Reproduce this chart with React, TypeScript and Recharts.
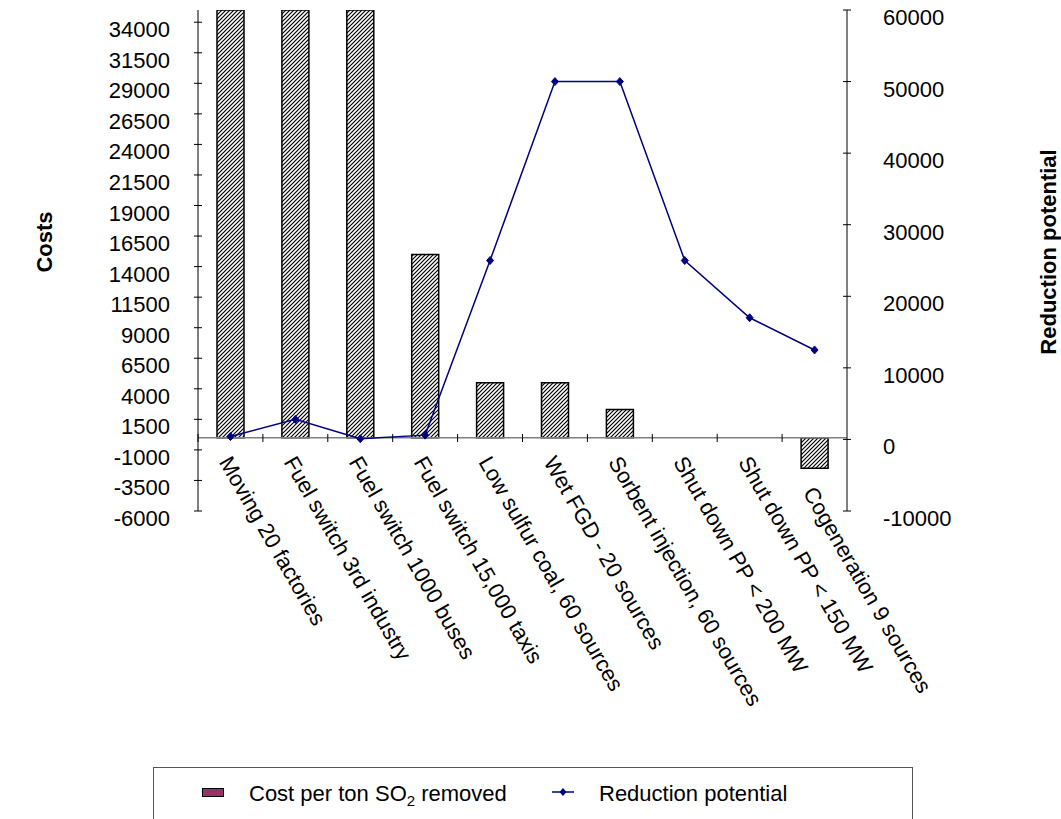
import React from 'react';
import {
  ComposedChart,
  Bar,
  Line,
  XAxis,
  YAxis,
  Legend,
  ReferenceLine,
} from 'recharts';

const categories = [
  'Moving 20 factories',
  'Fuel switch 3rd industry',
  'Fuel switch 1000 buses',
  'Fuel switch 15,000 taxis',
  'Low sulfur coal, 60 sources',
  'Wet FGD - 20 sources',
  'Sorbent injection, 60 sources',
  'Shut down PP < 200 MW',
  'Shut down PP < 150 MW',
  'Cogeneration 9 sources',
];

// cost per ton SO2 removed (first three run off the top of the axis)
const costPerTon = [35000, 35000, 35000, 15000, 4500, 4500, 2300, null, null, -2500];

const reductionPotential = [400, 2800, 100, 600, 25000, 50000, 50000, 25000, 17000, 12500];

const costTicks = [
  -6000, -3500, -1000, 1500, 4000, 6500, 9000, 11500, 14000, 16500,
  19000, 21500, 24000, 26500, 29000, 31500, 34000,
];

const reductionTicks = [-10000, 0, 10000, 20000, 30000, 40000, 50000, 60000];

const data = categories.map((name, i) => ({
  name,
  cost: costPerTon[i],
  reduction: reductionPotential[i],
}));

const FONT = '"Liberation Sans", Arial, sans-serif';
const NAVY = '#000080';
const ZERO_Y = 438;
const BAND = (847 - 198) / categories.length;
const COST_PX = 501 / 41000; // plot height / cost domain span

const CostTick = (props: any) => {
  const { x, y, payload } = props;
  return (
    <g>
      <line x1={x - 4} x2={x + 4} y1={y} y2={y} stroke="#000" />
      <text x={x - 28} y={y + 15} textAnchor="end" fontSize={22} fontFamily={FONT} fill="#000">
        {payload.value}
      </text>
    </g>
  );
};

const ReductionTick = (props: any) => {
  const { x, y, payload } = props;
  return (
    <g>
      <line x1={x - 4} x2={x + 4} y1={y} y2={y} stroke="#000" />
      <text x={x + 36} y={y + 15} textAnchor="start" fontSize={22} fontFamily={FONT} fill="#000">
        {payload.value}
      </text>
    </g>
  );
};

const CategoryTick = (props: any) => {
  const { x, payload, index } = props;
  const bx = x - BAND / 2;
  // labels under a negative bar start below it
  const v = costPerTon[index];
  const drop = v != null && v < 0 ? -v * COST_PX : 0;
  return (
    <g>
      <line x1={bx} x2={bx} y1={ZERO_Y - 4} y2={ZERO_Y + 4} stroke="#000" />
      <text
        transform={`translate(${x - 12},${ZERO_Y + 24 + drop}) rotate(60)`}
        textAnchor="start"
        fontSize={22}
        fontFamily={FONT}
        fill="#000"
      >
        {payload.value}
      </text>
    </g>
  );
};

const Diamond = (props: any) => {
  const { cx, cy } = props;
  if (cx == null || cy == null) return null;
  return (
    <polygon
      points={`${cx},${cy - 4} ${cx + 3.5},${cy} ${cx},${cy + 4} ${cx - 3.5},${cy}`}
      fill={NAVY}
      stroke={NAVY}
    />
  );
};

const LegendBox = () => (
  <div
    style={{
      position: 'relative',
      height: 52,
      boxSizing: 'border-box',
      borderTop: '1px solid #555',
      borderLeft: '1px solid #555',
      borderRight: '1px solid #555',
      fontFamily: FONT,
      fontSize: 22,
      color: '#000',
    }}
  >
    <div
      style={{
        position: 'absolute',
        left: 48,
        top: 20,
        width: 22,
        height: 9,
        background: '#993366',
        border: '1px solid #000',
        boxSizing: 'border-box',
      }}
    />
    <div style={{ position: 'absolute', left: 95, top: 13, lineHeight: '26px', whiteSpace: 'nowrap' }}>
      Cost per ton SO<sub style={{ fontSize: 15, verticalAlign: -5, lineHeight: 0 }}>2</sub> removed
    </div>
    <svg style={{ position: 'absolute', left: 398, top: 18 }} width={22} height={12}>
      <line x1={0} x2={22} y1={6} y2={6} stroke={NAVY} strokeWidth={1.5} />
      <polygon points="11,2 14.5,6 11,10 7.5,6" fill={NAVY} />
    </svg>
    <div style={{ position: 'absolute', left: 445, top: 13, lineHeight: '26px', whiteSpace: 'nowrap' }}>
      Reduction potential
    </div>
  </div>
);

const App: React.FC = () => {
  return (
    <div style={{ position: 'absolute', left: 0, top: 0, width: 1061, height: 819, background: '#fff' }}>
      <ComposedChart
        width={1061}
        height={819}
        data={data}
        margin={{ top: 10, right: 0, bottom: 0, left: 0 }}
        barSize={27}
      >
        <defs>
          <pattern id="hatch" patternUnits="userSpaceOnUse" width={4} height={4}>
            <rect width={4} height={4} fill="#fff" />
            <path d="M-1,1 l2,-2 M0,4 l4,-4 M3,5 l2,-2" stroke="#000" strokeWidth={1.2} />
          </pattern>
        </defs>
        <XAxis
          dataKey="name"
          xAxisId="cat"
          height={256}
          axisLine={false}
          tickLine={false}
          interval={0}
          tick={<CategoryTick />}
        />
        <YAxis
          yAxisId="cost"
          orientation="left"
          width={198}
          domain={[-6000, 35000]}
          ticks={costTicks}
          interval={0}
          allowDataOverflow
          tickSize={0}
          tickMargin={0}
          axisLine={{ stroke: '#000' }}
          tickLine={false}
          tick={<CostTick />}
          label={() => (
            <text
              transform="translate(44,242) rotate(-90)"
              textAnchor="middle"
              dominantBaseline="central"
              fontSize={22}
              fontWeight="bold"
              fontFamily={FONT}
            >
              Costs
            </text>
          )}
        />
        <YAxis
          yAxisId="reduction"
          orientation="right"
          width={214}
          domain={[-10000, 60000]}
          ticks={reductionTicks}
          interval={0}
          tickSize={0}
          tickMargin={0}
          axisLine={{ stroke: '#000' }}
          tickLine={false}
          tick={<ReductionTick />}
          label={() => (
            <text
              transform="translate(1048,252) rotate(-90)"
              textAnchor="middle"
              dominantBaseline="central"
              fontSize={22}
              fontWeight="bold"
              fontFamily={FONT}
            >
              Reduction potential
            </text>
          )}
        />
        <Bar
          xAxisId="cat"
          yAxisId="cost"
          dataKey="cost"
          name="Cost per ton SO2 removed"
          fill="url(#hatch)"
          stroke="#000"
          strokeWidth={1.5}
          isAnimationActive={false}
        />
        <ReferenceLine xAxisId="cat" yAxisId="cost" y={0} stroke="#808080" strokeWidth={1.5} />
        <Line
          xAxisId="cat"
          yAxisId="reduction"
          type="linear"
          dataKey="reduction"
          name="Reduction potential"
          stroke={NAVY}
          strokeWidth={1.5}
          dot={<Diamond />}
          activeDot={false}
          isAnimationActive={false}
        />
        <Legend
          verticalAlign="bottom"
          content={() => <LegendBox />}
          wrapperStyle={{ left: 153, width: 760, bottom: 0 }}
        />
      </ComposedChart>
    </div>
  );
};

export default App;
